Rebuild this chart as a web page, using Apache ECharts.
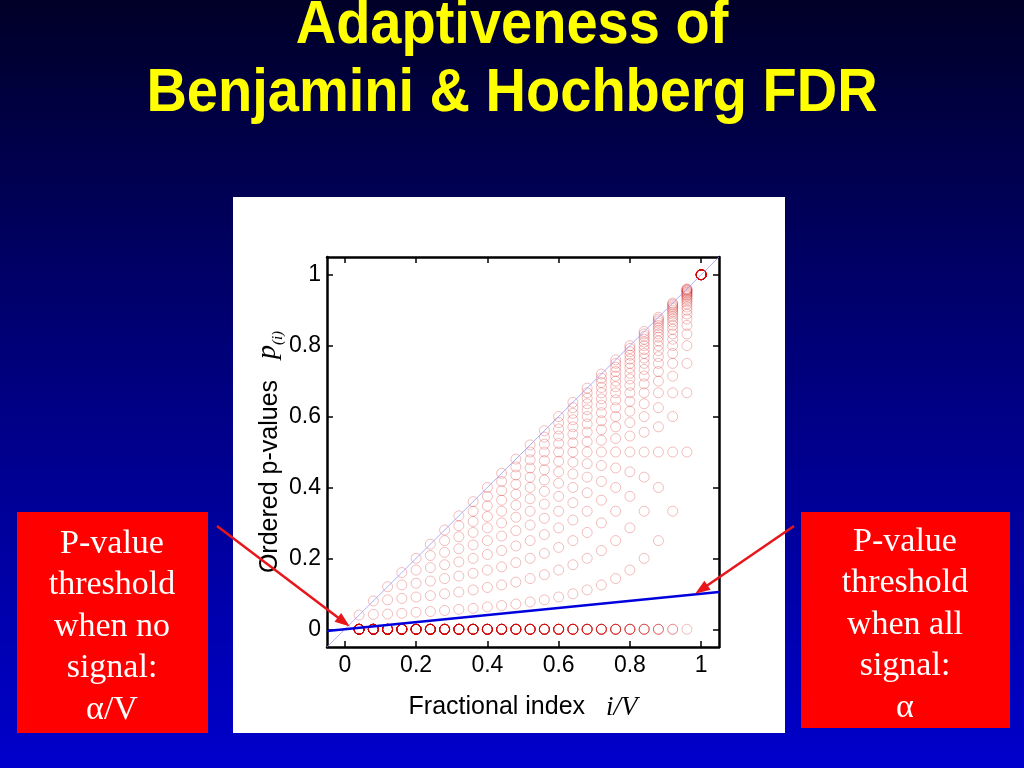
<!DOCTYPE html>
<html>
<head>
<meta charset="utf-8">
<script src="https://cdn.jsdelivr.net/npm/echarts@6/dist/echarts.min.js"></script>
<style>
html,body{margin:0;padding:0;width:1024px;height:768px;overflow:hidden;}
#c{width:1024px;height:768px;}
</style>
</head>
<body>
<div id="c"></div>
<script>
// Fractional index i/V for V = 25 tests
const fractionalIndex = [0.04,0.08,0.12,0.16,0.2,0.24,0.28,0.32,0.36,0.4,0.44,0.48,0.52,0.56,0.6,0.64,0.68,0.72,0.76,0.8,0.84,0.88,0.92,0.96,1];
// Ordered p-values p(i), one row per scenario (0..24 signal tests)
const orderedP = [
  [.04,.08,.12,.16,.2,.24,.28,.32,.36,.4,.44,.48,.52,.56,.6,.64,.68,.72,.76,.8,.84,.88,.92,.96,1],
  [0,.042,.083,.125,.167,.208,.25,.292,.333,.375,.417,.458,.5,.542,.583,.625,.667,.708,.75,.792,.833,.875,.917,.958,1],
  [0,0,.043,.087,.13,.174,.217,.261,.304,.348,.391,.435,.478,.522,.565,.609,.652,.696,.739,.783,.826,.87,.913,.957,1],
  [0,0,0,.045,.091,.136,.182,.227,.273,.318,.364,.409,.455,.5,.545,.591,.636,.682,.727,.773,.818,.864,.909,.955,1],
  [0,0,0,0,.048,.095,.143,.19,.238,.286,.333,.381,.429,.476,.524,.571,.619,.667,.714,.762,.81,.857,.905,.952,1],
  [0,0,0,0,0, .05,.1,.15,.2,.25,.3,.35,.4,.45,.5,.55,.6,.65,.7,.75,.8,.85,.9,.95,1],
  [0,0,0,0,0, 0,.053,.105,.158,.211,.263,.316,.368,.421,.474,.526,.579,.632,.684,.737,.789,.842,.895,.947,1],
  [0,0,0,0,0, 0,0,.056,.111,.167,.222,.278,.333,.389,.444,.5,.556,.611,.667,.722,.778,.833,.889,.944,1],
  [0,0,0,0,0, 0,0,0,.059,.118,.176,.235,.294,.353,.412,.471,.529,.588,.647,.706,.765,.824,.882,.941,1],
  [0,0,0,0,0, 0,0,0,0,.063,.125,.188,.25,.313,.375,.438,.5,.563,.625,.688,.75,.813,.875,.938,1],
  [0,0,0,0,0, 0,0,0,0,0, .067,.133,.2,.267,.333,.4,.467,.533,.6,.667,.733,.8,.867,.933,1],
  [0,0,0,0,0, 0,0,0,0,0, 0,.071,.143,.214,.286,.357,.429,.5,.571,.643,.714,.786,.857,.929,1],
  [0,0,0,0,0, 0,0,0,0,0, 0,0,.077,.154,.231,.308,.385,.462,.538,.615,.692,.769,.846,.923,1],
  [0,0,0,0,0, 0,0,0,0,0, 0,0,0,.083,.167,.25,.333,.417,.5,.583,.667,.75,.833,.917,1],
  [0,0,0,0,0, 0,0,0,0,0, 0,0,0,0,.091,.182,.273,.364,.455,.545,.636,.727,.818,.909,1],
  [0,0,0,0,0, 0,0,0,0,0, 0,0,0,0,0, .1,.2,.3,.4,.5,.6,.7,.8,.9,1],
  [0,0,0,0,0, 0,0,0,0,0, 0,0,0,0,0, 0,.111,.222,.333,.444,.556,.667,.778,.889,1],
  [0,0,0,0,0, 0,0,0,0,0, 0,0,0,0,0, 0,0,.125,.25,.375,.5,.625,.75,.875,1],
  [0,0,0,0,0, 0,0,0,0,0, 0,0,0,0,0, 0,0,0,.143,.286,.429,.571,.714,.857,1],
  [0,0,0,0,0, 0,0,0,0,0, 0,0,0,0,0, 0,0,0,0,.167,.333,.5,.667,.833,1],
  [0,0,0,0,0, 0,0,0,0,0, 0,0,0,0,0, 0,0,0,0,0, .2,.4,.6,.8,1],
  [0,0,0,0,0, 0,0,0,0,0, 0,0,0,0,0, 0,0,0,0,0, 0,.25,.5,.75,1],
  [0,0,0,0,0, 0,0,0,0,0, 0,0,0,0,0, 0,0,0,0,0, 0,0,.333,.667,1],
  [0,0,0,0,0, 0,0,0,0,0, 0,0,0,0,0, 0,0,0,0,0, 0,0,0,.5,1],
  [0,0,0,0,0, 0,0,0,0,0, 0,0,0,0,0, 0,0,0,0,0, 0,0,0,0,1]
];
// Reference lines
const lineX = [-0.05, 1.05];
const identityP = [-0.05, 1.05];       // p = i/V
const thresholdP = [-0.005, 0.105];    // p = alpha * i/V, alpha = 0.1
const tickValues = [0, 0.2, 0.4, 0.6, 0.8, 1];

const scatterData = [];
orderedP.forEach(row => row.forEach((p, j) => scatterData.push([fractionalIndex[j], p])));
const identityData = lineX.map((x, k) => [x, identityP[k]]);
const thresholdData = lineX.map((x, k) => [x, thresholdP[k]]);

const chart = echarts.init(document.getElementById('c'), null, {renderer: 'canvas'});

const axisCommon = {
  type: 'value', min: -0.05, max: 1.05,
  splitLine: {show: false},
  axisLine: {show: true, onZero: false, lineStyle: {color: '#000', width: 2.5}},
  axisTick: {show: true, inside: true, length: 6, lineStyle: {color: '#000', width: 1.5}, customValues: tickValues}
};

const option = {
  animation: false,
  backgroundColor: {type: 'linear', x: 0, y: 0, x2: 0, y2: 1,
    colorStops: [{offset: 0, color: '#000028'}, {offset: 0.5, color: '#000080'}, {offset: 1, color: '#0000cc'}]},
  grid: {left: 327, top: 257, width: 392, height: 390, containLabel: false},
  xAxis: [
    Object.assign({}, axisCommon, {
      position: 'bottom',
      axisLabel: {show: true, customValues: tickValues, margin: 7, color: '#000', fontSize: 23, fontFamily: 'Liberation Sans'},
      name: '{n|Fractional index}{g|   }{v|i/V}',
      nameLocation: 'middle', nameGap: 47,
      nameTextStyle: {rich: {
        n: {fontFamily: 'Liberation Sans', fontSize: 25, color: '#000'},
        g: {fontFamily: 'Liberation Sans', fontSize: 25},
        v: {fontFamily: 'Liberation Serif', fontStyle: 'italic', fontSize: 27, color: '#000'}
      }}
    }),
    Object.assign({}, axisCommon, {position: 'top', axisLabel: {show: false}})
  ],
  yAxis: [
    Object.assign({}, axisCommon, {
      position: 'left',
      axisLabel: {show: true, customValues: tickValues, margin: 6, color: '#000', fontSize: 23, fontFamily: 'Liberation Sans'},
      name: '{n|Ordered p-values}{g|   }{p|p}{s|(i)}',
      nameLocation: 'middle', nameGap: 44,
      nameTextStyle: {rich: {
        n: {fontFamily: 'Liberation Sans', fontSize: 25, color: '#000', verticalAlign: 'bottom'},
        g: {fontFamily: 'Liberation Sans', fontSize: 25, verticalAlign: 'bottom'},
        p: {fontFamily: 'Liberation Serif', fontStyle: 'italic', fontSize: 28, color: '#000', verticalAlign: 'bottom'},
        s: {fontFamily: 'Liberation Serif', fontStyle: 'italic', fontSize: 15, color: '#000', verticalAlign: 'bottom', padding: [0, 0, -3, 0]}
      }}
    }),
    Object.assign({}, axisCommon, {position: 'right', axisLabel: {show: false}})
  ],
  series: [
    {
      type: 'scatter', data: scatterData, symbol: 'circle', symbolSize: 10, silent: true, z: 2,
      itemStyle: {color: 'rgba(0,0,0,0)', borderColor: 'rgba(210,0,0,0.32)', borderWidth: 1}
    },
    {
      type: 'line', data: identityData, symbol: 'none', silent: true, z: 3,
      lineStyle: {color: '#9a9af5', width: 0.8}
    },
    {
      type: 'line', data: thresholdData, symbol: 'none', silent: true, z: 4,
      lineStyle: {color: '#0000dd', width: 2.5}
    }
  ]
};
chart.setOption(option);

function arrow(tail, tip, color) {
  const dx = tip[0] - tail[0], dy = tip[1] - tail[1];
  const len = Math.sqrt(dx * dx + dy * dy);
  const ux = dx / len, uy = dy / len, nx = -uy, ny = ux;
  const hl = 15, hw = 5.5;
  const bx = tip[0] - hl * ux, by = tip[1] - hl * uy;
  return [
    {type: 'line', z: 100, silent: true, shape: {x1: tail[0], y1: tail[1], x2: bx + 3 * ux, y2: by + 3 * uy},
      style: {stroke: color, lineWidth: 2.5}},
    {type: 'polygon', z: 100, silent: true,
      shape: {points: [[tip[0], tip[1]], [bx + hw * nx, by + hw * ny], [bx - hw * nx, by - hw * ny]]},
      style: {fill: color}}
  ];
}

const tipLeft = chart.convertToPixel({xAxisIndex: 0, yAxisIndex: 0}, [0.014, 0.008]);
const tipRight = chart.convertToPixel({xAxisIndex: 0, yAxisIndex: 0}, [0.983, 0.1]);

const serifText = {fontFamily: 'Liberation Serif', fontSize: 34, fill: '#fff', align: 'center', verticalAlign: 'top', lineHeight: 41.5};
const titleText = {fontFamily: 'Liberation Sans', fontWeight: 'bold', fontSize: 56, fill: '#ffff00', align: 'center', verticalAlign: 'middle'};

chart.setOption({
  graphic: [
    {type: 'rect', z: -10, silent: true, shape: {x: 233, y: 197, width: 552, height: 536}, style: {fill: '#fff'}},
    {type: 'text', z: 10, silent: true, x: 512, y: 26, scaleY: 1.08,
      style: Object.assign({text: 'Adaptiveness of'}, titleText)},
    {type: 'text', z: 10, silent: true, x: 512, y: 94.5, scaleY: 1.08,
      style: Object.assign({text: 'Benjamini & Hochberg FDR'}, titleText)},
    {type: 'rect', z: 10, silent: true, shape: {x: 17, y: 512, width: 191, height: 221}, style: {fill: '#ff0000'}},
    {type: 'text', z: 11, silent: true, x: 112, y: 523,
      style: Object.assign({text: 'P-value\nthreshold\nwhen no\nsignal:\nα/V'}, serifText)},
    {type: 'rect', z: 10, silent: true, shape: {x: 801, y: 512, width: 209, height: 216}, style: {fill: '#ff0000'}},
    {type: 'text', z: 11, silent: true, x: 905, y: 521,
      style: Object.assign({text: 'P-value\nthreshold\nwhen all\nsignal:\nα'}, serifText)}
  ].concat(arrow([217, 526], tipLeft, '#e8161b'), arrow([794, 526], tipRight, '#e8161b'))
});
</script>
</body>
</html>
